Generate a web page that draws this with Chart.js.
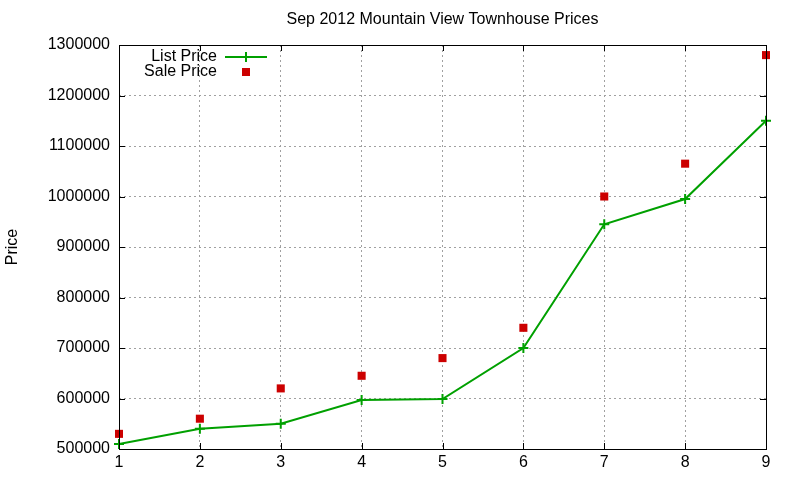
<!DOCTYPE html>
<html>
<head>
<meta charset="utf-8">
<script src="https://cdn.jsdelivr.net/npm/chart.js@4"></script>
<style>
	html, body { margin: 0; padding: 0; background: #fff; }
	#wrap { width: 800px; height: 480px; }
</style>
</head>
<body>
<div id="wrap"><canvas id="chart" width="800" height="480"></canvas></div>
<script>
// data
const months = [1, 2, 3, 4, 5, 6, 7, 8, 9];
const listPrice = [510000, 540000, 550000, 597000, 599000, 700000, 945000, 995000, 1150000];
const salePrice = [530000, 560000, 620000, 645000, 680000, 740000, 1000000, 1065000, 1280000];
const yTicks = [500000, 600000, 700000, 800000, 900000, 1000000, 1100000, 1200000, 1300000];

const titleText = 'Sep 2012 Mountain View Townhouse Prices';
const font = '"Liberation Sans", Arial, sans-serif';
const green = '#00a000';
const red = '#cc0000';

// title, y label, frame with inward ticks, gnuplot style key
const gnuplotLook = {
	id: 'gnuplotLook',
	afterDraw(chart) {
		const ctx = chart.ctx;
		const a = chart.chartArea;
		const xs = chart.scales.x;
		const ys = chart.scales.y;
		ctx.save();

		ctx.fillStyle = '#000';
		ctx.font = '16px ' + font;
		ctx.textAlign = 'center';
		ctx.textBaseline = 'middle';
		ctx.fillText(titleText, (a.left + a.right) / 2, 20);

		ctx.save();
		ctx.translate(13, (a.top + a.bottom) / 2);
		ctx.rotate(-Math.PI / 2);
		ctx.font = '16px ' + font;
		ctx.fillText('Price', 0, 0);
		ctx.restore();

		// border
		ctx.strokeStyle = '#000';
		ctx.lineWidth = 1;
		ctx.strokeRect(a.left + 0.5, a.top + 0.5, a.right - a.left, a.bottom - a.top);

		// inward ticks on all four sides
		ctx.beginPath();
		months.forEach(m => {
			const x = Math.round(xs.getPixelForValue(m)) + 0.5;
			ctx.moveTo(x, a.bottom); ctx.lineTo(x, a.bottom - 6);
			ctx.moveTo(x, a.top); ctx.lineTo(x, a.top + 6);
		});
		yTicks.forEach(v => {
			const y = Math.round(ys.getPixelForValue(v)) + 0.5;
			ctx.moveTo(a.left, y); ctx.lineTo(a.left + 6, y);
			ctx.moveTo(a.right, y); ctx.lineTo(a.right - 6, y);
		});
		ctx.stroke();

		// key
		ctx.font = '16px ' + font;
		ctx.textAlign = 'right';
		ctx.fillText('List Price', 217, 57);
		ctx.fillText('Sale Price', 217, 72);
		ctx.strokeStyle = green;
		ctx.lineWidth = 2;
		ctx.beginPath();
		ctx.moveTo(225, 57); ctx.lineTo(267, 57);
		ctx.moveTo(246, 52); ctx.lineTo(246, 62);
		ctx.stroke();
		ctx.fillStyle = red;
		ctx.fillRect(242, 68, 8, 8);

		ctx.restore();
	}
};

new Chart(document.querySelector('#chart').getContext('2d'), {
	type: 'line',
	data: {
		datasets: [
			{
				label: 'List Price',
				data: months.map((m, i) => ({ x: m, y: listPrice[i] })),
				borderColor: green,
				backgroundColor: green,
				borderWidth: 2,
				pointStyle: 'cross',
				pointRadius: 5,
				pointBorderWidth: 2,
				tension: 0,
				clip: false,
			},
			{
				label: 'Sale Price',
				data: months.map((m, i) => ({ x: m, y: salePrice[i] })),
				showLine: false,
				borderColor: red,
				backgroundColor: red,
				pointStyle: 'rect',
				pointRadius: 5.7,
				pointBorderWidth: 0,
				clip: false,
			},
		],
	},
	options: {
		responsive: false,
		animation: false,
		devicePixelRatio: 1,
		layout: { padding: { top: 45, right: 34, left: 0, bottom: 0 } },
		plugins: {
			legend: { display: false },
			title: { display: false },
			tooltip: { enabled: false },
		},
		scales: {
			x: {
				type: 'linear',
				min: 1,
				max: 9,
				afterFit: s => { s.height = 31; },
				afterBuildTicks: s => { s.ticks = months.map(v => ({ value: v })); },
				ticks: { color: '#000', font: { family: font, size: 16 }, padding: 4 },
				grid: { color: '#a0a0a0', drawTicks: false },
				border: { display: false, dash: [2, 3] },
			},
			y: {
				min: 500000,
				max: 1300000,
				afterFit: s => { s.width = 119; },
				afterBuildTicks: s => { s.ticks = yTicks.map(v => ({ value: v })); },
				ticks: { color: '#000', font: { family: font, size: 16 }, padding: 9, callback: v => String(v) },
				grid: { color: '#a0a0a0', drawTicks: false },
				border: { display: false, dash: [2, 3] },
			},
		},
	},
	plugins: [gnuplotLook],
});
</script>
</body>
</html>
